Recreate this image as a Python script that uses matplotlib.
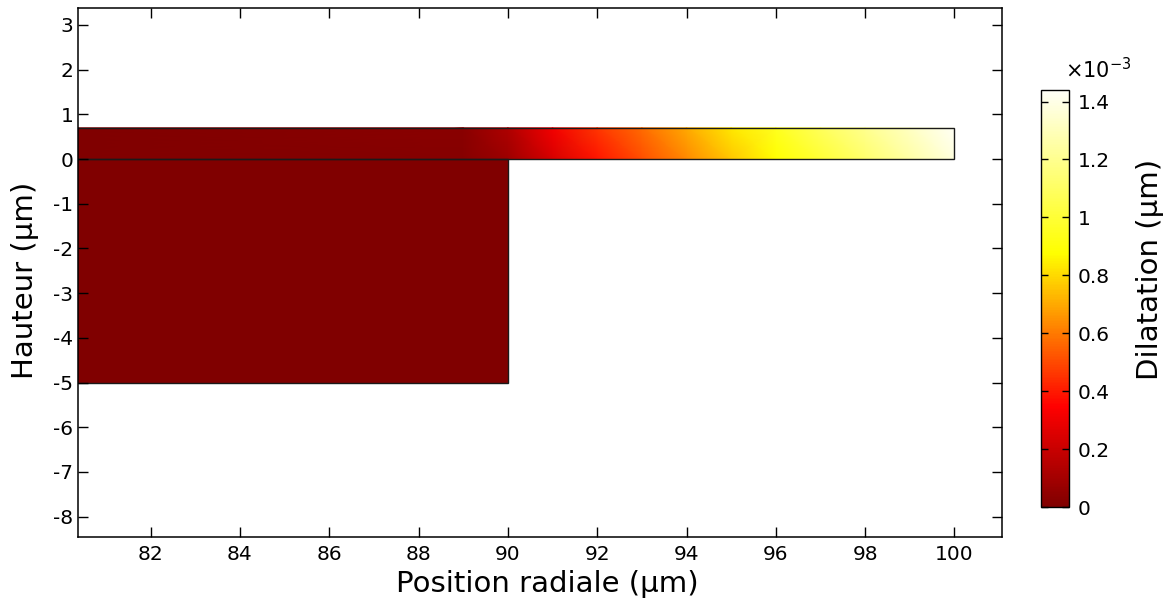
import numpy as np
import matplotlib
matplotlib.use("Agg")
import matplotlib.pyplot as plt
from matplotlib.colors import LinearSegmentedColormap, Normalize
from matplotlib.patches import Rectangle

plt.rcParams["font.family"] = ["DejaVu Sans"]
plt.rcParams["axes.unicode_minus"] = False

# Geometry (µm)
x_left = 80.0          # left end of the structure (outside the view)
substrate_right = 90.0
substrate_bottom = -5.0
film_right = 100.0
film_top = 0.7

# Dilatation along the film (x10^-3 µm), at its lower (y=0) and upper (y=film_top) faces
film_x = [80.0, 89.0, 90.0, 91.0, 92.0, 93.0, 94.0, 95.0, 96.0, 97.0, 98.0, 99.0, 100.0]
dil_bottom = [0.0, 0.02, 0.08, 0.24, 0.39, 0.51, 0.63, 0.76, 0.88, 1.00, 1.12, 1.25, 1.38]
dil_top = [0.0, 0.03, 0.13, 0.32, 0.46, 0.57, 0.70, 0.83, 0.95, 1.08, 1.20, 1.32, 1.44]
# Substrate stays essentially undeformed
dil_substrate = [[0.0, 0.0], [0.0, 0.0]]

dil_min, dil_max = 0.0, 1.44
cbar_ticks = [0, 0.2, 0.4, 0.6, 0.8, 1.0, 1.2, 1.4]
cbar_ticklabels = ["0", "0.2", "0.4", "0.6", "0.8", "1", "1.2", "1.4"]
x_ticks = [82, 84, 86, 88, 90, 92, 94, 96, 98, 100]
y_ticks = [3, 2, 1, 0, -1, -2, -3, -4, -5, -6, -7, -8]

cmap = LinearSegmentedColormap.from_list(
    "thermal_light",
    [(0.0, (0.5, 0.0, 0.0)),
     (0.24, (1.0, 0.0, 0.0)),
     (0.61, (1.0, 1.0, 0.0)),
     (1.0, (1.0, 1.0, 0.97))])
norm = Normalize(vmin=dil_min, vmax=dil_max)

W, H = 1164, 602
fig = plt.figure(figsize=(W / 100, H / 100), dpi=100)
ax = fig.add_axes([0.0673, 0.1085, 0.7937, 0.8782])

# Substrate
sx = np.array([[x_left, substrate_right], [x_left, substrate_right]])
sy = np.array([[substrate_bottom, substrate_bottom], [0.0, 0.0]])
ax.pcolormesh(sx, sy, np.array(dil_substrate), cmap=cmap, norm=norm, shading="gouraud")

# Film
fx = np.vstack([film_x, film_x])
fy = np.vstack([np.zeros(len(film_x)), np.full(len(film_x), film_top)])
fc = np.vstack([dil_bottom, dil_top])
mesh = ax.pcolormesh(fx, fy, fc, cmap=cmap, norm=norm, shading="gouraud")

# Domain outlines
edge_kw = dict(fill=False, edgecolor="#1a1a1a", linewidth=1.0)
ax.add_patch(Rectangle((x_left, substrate_bottom), substrate_right - x_left,
                       -substrate_bottom, **edge_kw))
ax.add_patch(Rectangle((x_left, 0.0), film_right - x_left, film_top, **edge_kw))

ax.set_xlim(80.38, 101.07)
ax.set_ylim(-8.45, 3.38)
ax.set_xticks(x_ticks)
ax.set_yticks(y_ticks)
ax.tick_params(direction="in", length=7, width=1.0, labelsize=14.5,
               top=True, right=True, color="black")
ax.tick_params(axis="x", pad=6)
for s in ax.spines.values():
    s.set_linewidth(1.1)

fig.text(547 / W, 1 - 584 / H, "Position radiale (µm)", fontsize=21,
         ha="center", va="center")
fig.text(25 / W, 1 - 280 / H, "Hauteur (µm)", rotation=90, fontsize=21,
         ha="center", va="center")

# Colour bar
cax = fig.add_axes([0.8941, 0.1578, 0.0246, 0.6927])
cb = fig.colorbar(mesh, cax=cax)
cb.set_ticks(cbar_ticks)
cb.set_ticklabels(cbar_ticklabels)
cb.outline.set_linewidth(1.0)
cax.tick_params(direction="in", length=5, width=1.0, labelsize=14.5,
                left=True, right=True, color="black", pad=6)
fig.text(1150 / W, 1 - 269 / H, "Dilatation (µm)", rotation=90,
         fontsize=21, ha="center", va="center")
fig.text(1098 / W, 1 - 70 / H, r"$\times10^{-3}$", fontsize=15,
         ha="center", va="center")

fig.savefig("out.png", dpi=100)
